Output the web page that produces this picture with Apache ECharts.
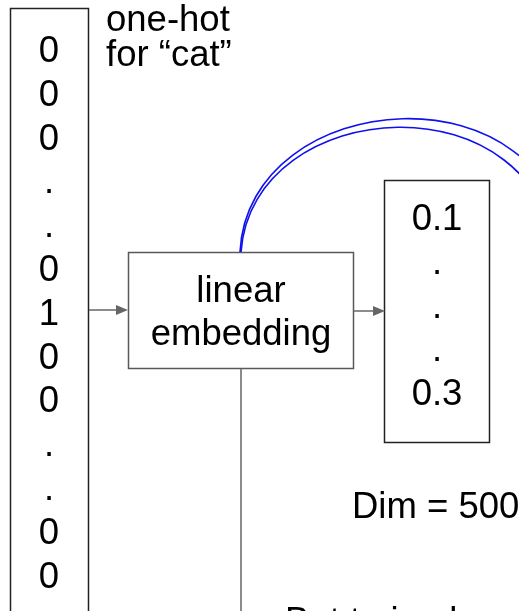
<!DOCTYPE html>
<html>
<head>
<meta charset="utf-8">
<script src="https://cdn.jsdelivr.net/npm/echarts@6/dist/echarts.min.js"></script>
<style>html,body{margin:0;padding:0;background:#fff;}#c{width:519px;height:611px;}</style>
</head>
<body>
<div id="c"></div>
<script>
// Data
var oneHotValues = ['0','0','0','.','.','0','1','0','0','.','.','0','0'];
var embeddingValues = ['0.1','.','.','.','0.3'];
var oneHotTitle = ['one-hot', 'for \u201ccat\u201d'];
var boxLabel = ['linear', 'embedding'];
var dimLabel = 'Dim = 500';
var bottomLabel = 'But to implement';

var FONT = '36.5px "Liberation Sans", Arial, sans-serif';
var LH = 43.8;
var els = [];

function txt(t, x, y, align) {
  els.push({type:'text', x:x, y:y, style:{text:t, font:FONT, fill:'#000',
    align:align||'center', verticalAlign:'middle', textAlign:align||'center', textVerticalAlign:'middle'}});
}
function rect(x,y,w,h,color){
  els.push({type:'rect', shape:{x:x,y:y,width:w,height:h}, style:{fill:'none', stroke:color, lineWidth:1.5}});
}
function line(x1,y1,x2,y2,color){
  els.push({type:'line', shape:{x1:x1,y1:y1,x2:x2,y2:y2}, style:{stroke:color, lineWidth:1.5}});
}
function arrow(x1,y,x2,color){
  line(x1,y,x2-10,y,color);
  els.push({type:'polygon', shape:{points:[[x2-12,y-5],[x2,y],[x2-12,y+5]]}, style:{fill:color}});
}

// one-hot column
rect(10.5, 8.5, 78, 620, '#222');
oneHotValues.forEach(function(v,i){ txt(v, 49, 52 + i*LH); });
txt(oneHotTitle[0], 106, 21, 'left');
txt(oneHotTitle[1], 106, 56, 'left');

// linear embedding box
rect(128.5, 252.5, 225, 116, '#595959');
txt(boxLabel[0], 241, 292);
txt(boxLabel[1], 241, 335);

// embedding column
rect(384.5, 180.5, 105, 262, '#222');
embeddingValues.forEach(function(v,i){ txt(v, 437, 220 + i*LH); });

txt(dimLabel, 352, 508, 'left');
txt(bottomLabel, 285, 623, 'left');

// arrows and lines
arrow(89, 310, 128, '#666');
arrow(354, 311, 385, '#666');
line(241, 369, 241, 620, '#666');

// blue double curve
els.push({type:'bezierCurve', shape:{x1:240,y1:252,cpx1:248,cpy1:86,cpx2:555,cpy2:60,x2:570,y2:260},
  style:{fill:'none', stroke:'#1010ee', lineWidth:1.6}});
els.push({type:'bezierCurve', shape:{x1:241,y1:252,cpx1:252,cpy1:94,cpx2:543,cpy2:73,x2:558,y2:265},
  style:{fill:'none', stroke:'#1010ee', lineWidth:1.6}});

var chart = echarts.init(document.getElementById('c'), null, {renderer:'canvas'});
chart.setOption({animation:false, backgroundColor:'#fff', graphic:{elements:els}});
</script>
</body>
</html>
